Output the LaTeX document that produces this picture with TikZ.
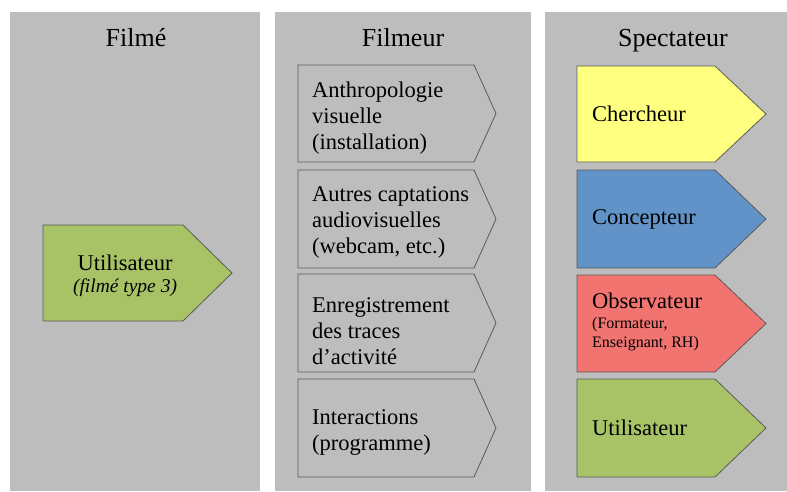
\documentclass[tikz,border=0pt]{standalone}
\usepackage{fontspec}
\setmainfont{Liberation Serif}
\definecolor{panelgray}{HTML}{BDBDBD}
\definecolor{edgegray}{HTML}{5A5A5A}
\definecolor{chercheurcol}{HTML}{FFFF80}
\definecolor{concepteurcol}{HTML}{6193C8}
\definecolor{observcol}{HTML}{F17470}
\definecolor{usercol}{HTML}{A7C366}
\tikzset{
  titletext/.style={anchor=base,font=\fontsize{26}{30}\selectfont},
  boxtext/.style={anchor=west,align=left,inner sep=0pt,font=\fontsize{22.5}{26}\selectfont},
  smalltext/.style={anchor=west,align=left,inner sep=0pt,font=\fontsize{16}{19}\selectfont},
  pentaline/.style={draw=edgegray,line width=0.8pt,line join=miter}
}
\begin{document}
\begin{tikzpicture}[x=1pt,y=-1pt]
\useasboundingbox (0,0) rectangle (787,491);
% panels
\fill[panelgray] (10,12) rectangle (260,491);
\fill[panelgray] (275,12) rectangle (531,491);
\fill[panelgray] (545,12) rectangle (787,491);
\node[titletext] (filme) at (136,46) {Filmé};
\node[titletext] (filmeur) at (403,46) {Filmeur};
\node[titletext] (spectateur) at (673,46) {Spectateur};
% Filme
\draw[pentaline,fill=usercol] (43,225)--(183,225)--(232,273)--(183,321)--(43,321)--cycle;
\node[anchor=base,inner sep=0pt,font=\fontsize{22.5}{26}\selectfont] (user1) at (125,270) {Utilisateur};
\node[anchor=base,inner sep=0pt,font=\fontsize{19.5}{22}\selectfont\itshape] (user1type) at (125,292) {(filmé type 3)};
% Filmeur
\foreach \t/\b in {65/162,170/268,274/372,379/477}
  \draw[pentaline,fill=panelgray] (298,\t)--(474,\t)--(496,{(\t+\b)/2})--(474,\b)--(298,\b)--cycle;
\node[boxtext] (anthro) at (312,118.5) {Anthropologie\\visuelle\\(installation)};
\node[boxtext] (captations) at (312,222.5) {Autres captations\\audiovisuelles\\(webcam, etc.)};
\node[boxtext] (traces) at (312,331.3) {Enregistrement\\des traces\\d’activité};
\node[boxtext] (interactions) at (312,432) {Interactions\\(programme)};
% Spectateur
\foreach \t/\b/\c in {66/162/chercheurcol,170/268/concepteurcol,275/372/observcol,379/477/usercol}
  \draw[pentaline,fill=\c] (577,\t)--(715,\t)--(766,{(\t+\b)/2})--(715,\b)--(577,\b)--cycle;
\node[boxtext] (chercheur) at (592,114) {Chercheur};
\node[boxtext] (concepteur) at (592,219) {Concepteur};
\node[anchor=base west,inner sep=0pt,font=\fontsize{22.5}{26}\selectfont] (observ) at (592,308) {Observateur};
\node[smalltext] (observsub) at (592,334) {(Formateur,\\Enseignant, RH)};
\node[boxtext] (user2) at (592,428) {Utilisateur};
\end{tikzpicture}
\end{document}
